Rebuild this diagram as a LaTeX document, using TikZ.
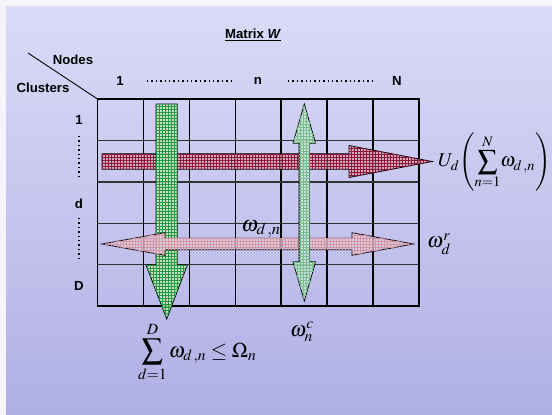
\documentclass[tikz,border=0pt]{standalone}
\usepackage{mathptmx}
\usepackage{fontspec}
\newfontfamily\labfont{Liberation Sans}
\usetikzlibrary{patterns}
\definecolor{outerbg}{RGB}{244,244,250}
\definecolor{bgtop}{RGB}{218,219,248}
\definecolor{bgbot}{RGB}{176,175,228}
\definecolor{redbase}{RGB}{220,160,180}
\definecolor{redline}{RGB}{136,24,54}
\definecolor{greenbase}{RGB}{190,232,194}
\definecolor{greenline}{RGB}{40,150,60}
\definecolor{pinkbase}{RGB}{222,204,228}
\definecolor{pinkline}{RGB}{214,150,160}
\definecolor{lgreenbase}{RGB}{200,232,212}
\definecolor{lgreenline}{RGB}{120,190,140}
\tikzset{
  lab/.style={font=\labfont\bfseries\fontsize{13.2}{15}\selectfont, inner sep=0pt},
  mth/.style={font=\fontsize{21}{25}\selectfont, inner sep=0pt},
  gridline/.style={line width=1.1pt, black},
  arrowbody/.style={draw=black, line width=0.8pt, fill opacity=0.8},
  dotline/.style={line width=1.4pt, dash pattern=on 1.3pt off 3.1pt}
}
\begin{document}
\begin{tikzpicture}[x=1pt,y=-1pt]
\useasboundingbox (0,0) rectangle (552,415);
% background
\fill[outerbg] (0,0) rectangle (552,415);
\shade[top color=bgtop, bottom color=bgbot] (6,6) rectangle (552,415);
% grid
\foreach \x in {143.5,189.5,235.5,281,327,373} \draw[gridline] (\x,99) -- (\x,306);
\foreach \y in {140.5,182,223.3,264.7} \draw[gridline, black!80] (97.5,\y) -- (418.7,\y);
\draw[line width=1.8pt] (97.5,99) rectangle (418.7,306);
\coordinate (gtl) at (97.5,99);
\coordinate (diag) at (28,53);
\draw[line width=0.9pt] (diag) -- (gtl);
% red arrow (right)
\path[arrowbody, fill=redbase, postaction={pattern=grid, pattern color=redline}]
  (102,153.8) -- (349,153.8) -- (349,145.5) -- (432,161.5) -- (349,177.5) -- (349,169.2) -- (102,169.2) -- cycle;
% green arrow (down)
\path[arrowbody, fill=greenbase, postaction={pattern=grid, pattern color=greenline}]
  (156,104) -- (177.3,104) -- (177.3,265) -- (187.3,265) -- (166.7,319) -- (146,265) -- (156,265) -- cycle;
% pink double arrow
\path[arrowbody, fill=pinkbase, fill opacity=0.7, postaction={pattern=grid, pattern color=pinkline}]
  (102,244) -- (165,232.7) -- (165,238.2) -- (352,238.2) -- (352,232.7) -- (413.3,244)
  -- (352,255.3) -- (352,249.8) -- (165,249.8) -- (165,255.3) -- cycle;
% light green double arrow
\path[arrowbody, fill=lgreenbase, fill opacity=0.75, postaction={pattern=grid, pattern color=lgreenline}]
  (304.3,104) -- (315.6,143.3) -- (309.5,143.3) -- (309.5,261.7) -- (315.6,261.7) -- (304.3,301)
  -- (293,261.7) -- (299.1,261.7) -- (299.1,143.3) -- (293,143.3) -- cycle;
% labels
\node[lab, anchor=base] (title) at (253,38) {\underline{Matrix \textit{W}}};
\node[lab] (nodes) at (73,60) {Nodes};
\node[lab] (clusters) at (43,88) {Clusters};
\node[lab] (c1) at (120,81) {1};
\node[lab] (cn) at (258,81) {n};
\node[lab] (cN) at (397,81) {N};
\node[lab] (r1) at (79,120) {1};
\node[lab] (rd) at (79,204) {d};
\node[lab] (rD) at (79,286) {D};
\coordinate (h1a) at (147,81); \coordinate (h1b) at (232,81);
\coordinate (h2a) at (288,81); \coordinate (h2b) at (374,81);
\coordinate (v1a) at (79,136); \coordinate (v1b) at (79,179);
\coordinate (v2a) at (79,218); \coordinate (v2b) at (79,262);
\draw[dotline] (h1a) -- (h1b);
\draw[dotline] (h2a) -- (h2b);
\draw[dotline] (v1a) -- (v1b);
\draw[dotline] (v2a) -- (v2b);
% math
\node[mth, font=\fontsize{22}{26}\selectfont] (wdn) at (261,229) {$\omega_{d\,,n}$};
\node[mth, font=\fontsize{19.5}{24}\selectfont, anchor=west] (ud) at (438,162) {$U_d\!\left(\displaystyle\sum_{n=1}^{N}\!\omega_{d\,,n}\right)$};
\node[mth, anchor=west] (wr) at (427,244) {$\omega_d^r$};
\node[mth, anchor=west] (wc) at (290,332) {$\omega_n^c$};
\node[mth, anchor=west] (cons) at (138,352) {$\displaystyle\sum_{d=1}^{D}\omega_{d\,,n}\le\Omega_n$};
\end{tikzpicture}
\end{document}
